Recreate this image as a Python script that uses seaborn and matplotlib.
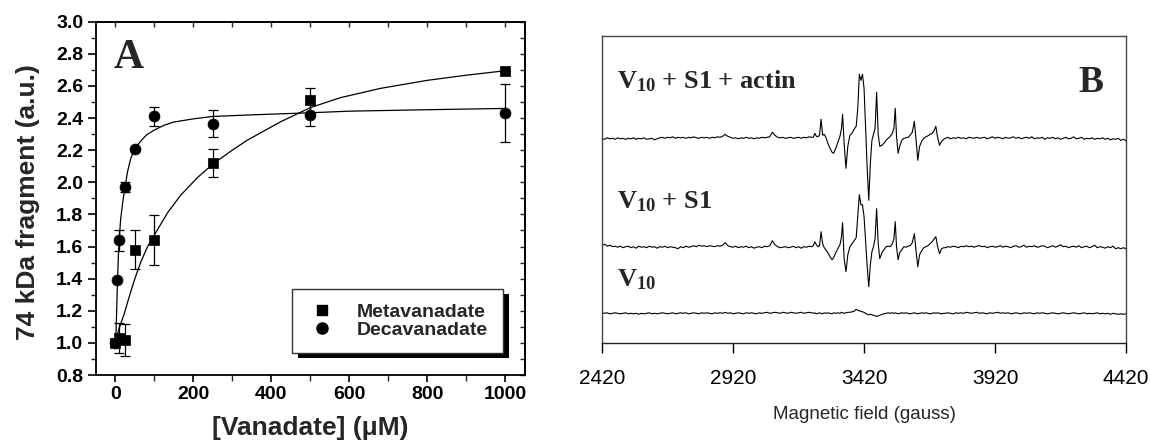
import numpy as np
import pandas as pd
import matplotlib
matplotlib.use("Agg")
import matplotlib.pyplot as plt
from matplotlib.lines import Line2D
from matplotlib.patches import Rectangle
from matplotlib.ticker import MultipleLocator
import seaborn as sns

# ---------------- Panel A data ----------------
META_X = [0, 10, 25, 50, 100, 250, 500, 1000]
META_Y = [1.00, 1.03, 1.02, 1.58, 1.64, 2.12, 2.51, 2.69]
META_ERR = [0.0, 0.095, 0.10, 0.12, 0.155, 0.085, 0.08, 0.0]

DECA_X = [0, 5, 10, 25, 50, 100, 250, 500, 1000]
DECA_Y = [1.00, 1.39, 1.64, 1.97, 2.21, 2.41, 2.365, 2.42, 2.43]
DECA_ERR = [0.0, 0.0, 0.065, 0.03, 0.0, 0.06, 0.085, 0.07, 0.18]

META_FIT_X = [0, 2, 10, 23, 35, 49, 65, 83, 100, 134, 168, 211, 251, 300,
              339, 424, 500, 577, 680, 800, 900, 1000]
META_FIT_Y = [1.00, 1.02, 1.09, 1.18, 1.28, 1.39, 1.50, 1.60, 1.67, 1.81, 1.92,
              2.03, 2.115, 2.20, 2.263, 2.377, 2.465, 2.527, 2.585, 2.635, 2.667, 2.695]

DECA_FIT_X = [0, 2, 4, 6, 8, 10, 14, 19, 25, 32, 40, 50, 65, 80, 100, 125,
              150, 200, 250, 350, 500, 600, 800, 1000]
DECA_FIT_Y = [1.00, 1.05, 1.22, 1.39, 1.53, 1.64, 1.77, 1.87, 1.97, 2.07, 2.15,
              2.21, 2.255, 2.295, 2.325, 2.355, 2.375, 2.395, 2.41, 2.42, 2.433,
              2.443, 2.452, 2.46]

X_TICKS_A = [0, 200, 400, 600, 800, 1000]
Y_TICKS_A = [0.8, 1.0, 1.2, 1.4, 1.6, 1.8, 2.0, 2.2, 2.4, 2.6, 2.8, 3.0]

# ---------------- Panel B data (EPR spectra, arbitrary units) ----------------
FIELD_LOW = list(range(2420, 3230, 10))      # 81 sample fields
FIELD_MID = [3226, 3232, 3238, 3244, 3250, 3256, 3262, 3268, 3274,
             3282, 3290, 3298, 3304, 3312, 3320, 3328, 3334, 3338, 3344,
             3351, 3358, 3366, 3374, 3382, 3390, 3396, 3402, 3408, 3414,
             3420, 3426, 3432, 3438, 3444, 3450, 3456, 3462, 3468, 3474,
             3480, 3488, 3496, 3504, 3512, 3520, 3528, 3534, 3539, 3544,
             3550, 3556, 3564, 3572, 3580, 3588, 3596, 3604, 3612, 3618,
             3625, 3632, 3640, 3648, 3656, 3664, 3672, 3680, 3688, 3694,
             3700, 3708, 3716, 3724]
FIELD_HIGH = list(range(3730, 4430, 10))     # 70 sample fields

S1_LOW = [0, -1, 0.5, -0.5, 0, -1, 0.5, -0.5, 0, -1,
          0, -0.5, 0.5, -1, 0, -0.5, 0.5, -1, -0.5, 0,
          -1.5, -0.5, 0.5, 1, 0, 1, 0.5, 1.5, 0, 1,
          0.5, 1, 0, 1, 0.5, 1.5, 0.5, 0, 1, 0.5,
          1, 0, 1, 0.5, 1.5, 1, 2, 4, 2, 1,
          0, 0.5, -0.5, 0.5, 0, 1, 0, 0.5, -0.5, 0.5,
          0, 1, 0.5, 1, 1.5, 6, 3, 1, 0.5, 1,
          0, 0.5, 1, 0, 0.5, 1, 0, 1, 0.5, 1.5,
          1]
S1_MID = [1, 5, 2, 1.5, 3, 19, 3, 4, 1,
          -5, -10, -14, -15, -10, -4, 2, 10, 24, -5,
          -30, -8, 3, 5, 9, 12, 30, 64, 58, 64,
          50, 10, -30, -62, -25, -2, 4, 10, 46, 4,
          -8, -7, -5, -2, 0, 2, 5, 10, 30, 2,
          -15, -8, -2, 0, 0.5, 1, 3, 6, 17, 0,
          -22, -8, -3, 0, 1.5, 2.5, 4, 5, 8, 12,
          2, -7, -3, -1]
S1_HIGH = [0, 1, -0.5, 0.5, 0, 1, 0, 0.5, -0.5, 1,
           0.5, 0, 1, 0, 0.5, 1, -0.5, 0.5, 1.5, 0,
           1, 0.5, -0.5, 1, 0, 0.5, 1.5, 0, 1, -0.5,
           0.5, 1, 0, 1.5, -0.5, 0.5, 0, 1, -1, 0.5,
           0, 1, -0.5, 0.5, -1, 0, 1, -0.5, 0, 1.5,
           -0.5, 0, 1, -1, 0, -0.5, 0.5, -1, 0, -0.5,
           0.5, -1, 0, -1.5, -0.5, -1, 0, -2, -1, -2.5]

S2_LOW = [1, 2.5, 0.5, 1.5, 0, 0.5, -0.5, 0.5, -1, 0,
          0.5, -1, 0, -1.5, 0.5, -0.5, 0, -1, 0.5, -0.5,
          0, -1.5, 0, -0.5, 0.5, -1, 0, -0.5, -1, -2,
          0, -1, 0.5, -0.5, 0, 1, 0, 1.5, 0.5, 1,
          0, 1, 0.5, 0, 1, 0.5, 1.5, 4, 1, 0,
          -0.5, 0.5, -1, 0, -0.5, 0.5, -1, 0, -1.5, -0.5,
          0, -1, 0.5, 0, 1, 6, 2, 0, -1, -0.5,
          0, -1, -0.5, 0.5, -1, 0, -1.5, 0, -0.5, 0.5,
          0]
S2_MID = [1, 5, 2, 0, 1, 15, 3, -1, -3,
          -6, -10, -13, -11, -6, -2, 2, 10, 24, -12,
          -25, -8, 0, 3, 6, 9, 30, 52, 42, 42,
          30, 5, -20, -40, -18, -5, 0, 8, 38, 3,
          -12, -6, -3, 0, 0.5, 0, 3, 8, 25, 0,
          -13, -6, -3, 0, -0.5, 0.5, 1, 4, 13, -3,
          -20, -8, -4, -1, 0, 1, 3, 5, 8, 10,
          1, -7, -2, -1]
S2_HIGH = [-1, 0, -0.5, 0.5, 0, -1, 0.5, 0, 1, 0,
           0.5, -0.5, 0.5, 1, 0, 0.5, -1, 0, 0.5, -0.5,
           0, 1, -0.5, 0.5, 0, -1, 0.5, 1, -0.5, 0,
           1.5, -0.5, 0.5, 0, 1, -0.5, 0, 1, 0.5, -1,
           0, 1, -0.5, 0.5, 2, 0, 0.5, -1, 0, 0.5,
           -0.5, 1, -1, 0, 0.5, -1, 0, 1.5, -1, 0,
           -0.5, -1.5, 0, -1, 0.5, -2, -1, -2, -1, -2]

S3_LOW = [0.5, 0, 0.5, -0.5, 0, 0.5, 0, -0.5, 0, 0.5,
          -0.5, 0, -0.5, 0, -1, 0, -0.5, 0, 0.5, -0.5,
          0, -0.5, 0, 0.5, 0, -0.5, 0, 0.5, -0.5, 0,
          0.5, 0, 0.5, -0.5, 0, 0.5, 0, -0.5, 0.5, 0,
          0.5, 0, -0.5, 0.5, 0, 0.5, 0, 1, 0, 0.5,
          -0.5, 0, 0.5, 0, -0.5, 0.5, 0, 0.5, 0, -0.5,
          0.5, 0, 0.5, 1, 0, 0.5, 1, 0.5, 0, 1,
          0.5, 0, 1, 0.5, 0, 0.5, 1, 0, 0.5, 1,
          0.5]
S3_MID = [0, 0.5, -0.5, 0, 0.5, 0, -0.5, 0.5, 0,
          0.5, 0, -0.5, 0.5, 0, 0.5, 0, 1, 0.5, 0,
          0.5, 1, 1, 1.5, 2, 4, 3, 2.5, 2, 1.5,
          1, 0, -1, -1.5, -1, -1.5, -2, -2.5, -3, -2.5,
          -2, -1, -0.5, 0, 0.5, 0, 0.5, 0, 0.5, 0,
          -0.5, 0, 0.5, 0, 0.5, 0, -0.5, 0, 0.5, 0,
          -0.5, 0, 0.5, 0, 0.5, 0, -0.5, 0, 0.5, 0,
          0.5, 0, -0.5, 0]
S3_HIGH = [0, 0.5, 0, -0.5, 0.5, 0, 0.5, 0, 1, 0.5,
           0, 0.5, 1, 0, 0.5, 0, -0.5, 0.5, 0, 0.5,
           1, 0, 0.5, 0, 0.5, -0.5, 0, 0.5, 0, -0.5,
           0.5, 0, 0.5, 0, -0.5, 0.5, 0, 0.5, 0, -0.5,
           0, 0.5, 0, -0.5, 0, 0.5, 0, -0.5, 0, 0.5,
           0, -0.5, 0, 0.5, -0.5, 0, -0.5, 0, 0.5, -0.5,
           0, -0.5, 0, -1, 0, -0.5, -1, -0.5, -1, -0.5]

SPECTRUM_LABELS = [r"V$_{10}$ + S1 + actin", r"V$_{10}$ + S1", r"V$_{10}$"]
X_TICKS_B = [2420, 2920, 3420, 3920, 4420]

# ---------------- Style ----------------
sns.set_style("ticks")
plt.rcParams['font.family'] = ['Liberation Sans', 'DejaVu Sans']
plt.rcParams['mathtext.fontset'] = 'custom'
plt.rcParams['mathtext.rm'] = 'Liberation Serif:bold'
plt.rcParams['mathtext.it'] = 'Liberation Serif:bold'
plt.rcParams['mathtext.bf'] = 'Liberation Serif:bold'

fig = plt.figure(figsize=(11.5, 4.45), dpi=100)
fig.patch.set_facecolor('white')

# ================= Panel A =================
axA = fig.add_axes([0.0832, 0.1573, 0.3733, 0.7939])
axA.set_facecolor('white')

sns.lineplot(x=META_FIT_X, y=META_FIT_Y, ax=axA, color='black', lw=0.9,
             estimator=None, sort=False, zorder=2)
sns.lineplot(x=DECA_FIT_X, y=DECA_FIT_Y, ax=axA, color='black', lw=0.9,
             estimator=None, sort=False, zorder=2)

axA.errorbar(META_X, META_Y, yerr=META_ERR, fmt='none', ecolor='black',
             elinewidth=0.9, capsize=3.5, capthick=0.9, zorder=3)
axA.errorbar(DECA_X, DECA_Y, yerr=DECA_ERR, fmt='none', ecolor='black',
             elinewidth=0.9, capsize=3.5, capthick=0.9, zorder=3)

sns.scatterplot(x=META_X, y=META_Y, ax=axA, marker='s', s=55, color='black',
                edgecolor='black', linewidth=0.5, zorder=4)
sns.scatterplot(x=DECA_X, y=DECA_Y, ax=axA, marker='o', s=62, color='black',
                edgecolor='black', linewidth=0.5, zorder=4)

axA.set_xlim(-50, 1050)
axA.set_ylim(0.8, 3.0)
axA.set_xticks(X_TICKS_A)
axA.set_xticklabels([str(t) for t in X_TICKS_A])
axA.xaxis.set_minor_locator(MultipleLocator(100))
axA.set_yticks(Y_TICKS_A)
axA.set_yticklabels([f"{t:.1f}" for t in Y_TICKS_A])
axA.yaxis.set_minor_locator(MultipleLocator(0.1))
axA.tick_params(axis='both', which='major', direction='out', width=1.2,
                labelsize=14, colors='black')
axA.tick_params(axis='y', which='major', length=6, pad=3)
axA.tick_params(axis='y', which='minor', direction='out', length=3.5, width=1.0)
axA.tick_params(axis='x', which='major', length=5, pad=3)
axA.tick_params(axis='x', which='minor', direction='out', length=4, width=1.0)
for lab in axA.get_xticklabels() + axA.get_yticklabels():
    lab.set_fontweight('bold')
for sp in axA.spines.values():
    sp.set_visible(True)
    sp.set_linewidth(1.3)
    sp.set_color('black')

# mirrored inward ticks on top / right
topA = axA.secondary_xaxis('top')
topA.set_xticks(list(range(0, 1001, 100)))
topA.tick_params(direction='in', length=3.5, width=1.0, labeltop=False)
topA.spines['top'].set_linewidth(1.3)
rightA = axA.secondary_yaxis('right')
rightA.set_yticks([round(0.8 + 0.1 * i, 1) for i in range(23)])
rightA.tick_params(direction='in', length=3.5, width=1.0, labelright=False)
rightA.spines['right'].set_linewidth(1.3)

axA.set_xlabel("[Vanadate] (\u03bcM)", fontsize=19, fontweight='bold', va='center')
axA.xaxis.set_label_coords(0.5, -0.15)
axA.set_ylabel("74 kDa fragment (a.u.)", fontsize=19, fontweight='bold', va='center')
axA.yaxis.set_label_coords(-0.158, 0.49)

axA.text(-3, 2.71, "A", fontsize=30, fontweight='bold',
         family=['Liberation Serif', 'DejaVu Serif'], ha='left', va='baseline')

handles = [Line2D([], [], marker='s', color='black', linestyle='none', markersize=7.5),
           Line2D([], [], marker='o', color='black', linestyle='none', markersize=8)]
leg = axA.legend(handles, ["Metavanadate", "Decavanadate"], loc='lower left',
                 bbox_to_anchor=(0.457, 0.062), borderaxespad=0, frameon=True,
                 fancybox=False, framealpha=1, edgecolor='#333333',
                 prop={'family': 'Liberation Sans', 'weight': 'bold', 'size': 14},
                 borderpad=0.75, handlelength=1.57, handletextpad=1.02,
                 labelspacing=0.0)
leg.get_frame().set_linewidth(1.0)
leg.set_zorder(6)

# ================= Panel B =================
axB = fig.add_axes([0.5235, 0.2292, 0.4557, 0.6899])
axB.set_facecolor('white')

field = FIELD_LOW + FIELD_MID + FIELD_HIGH
spectra = [S1_LOW + S1_MID + S1_HIGH,
           S2_LOW + S2_MID + S2_HIGH,
           S3_LOW + S3_MID + S3_HIGH]
offsets = [204.7, 96.3, 29.7]
for vals, off in zip(spectra, offsets):
    n = min(len(field), len(vals))
    df = pd.DataFrame({'field': field[:n], 'signal': np.array(vals[:n]) + off})
    sns.lineplot(data=df, x='field', y='signal', ax=axB, color='black', lw=0.8,
                 estimator=None, sort=False)

axB.set_xlim(2420, 4420)
axB.set_ylim(0, 307)
axB.set_xticks(X_TICKS_B)
axB.set_xticklabels([str(t) for t in X_TICKS_B])
axB.set_yticks([])
axB.tick_params(axis='x', direction='out', length=7.5, width=1.0, pad=11,
                labelsize=15, colors='black')
axB.set_xlabel("Magnetic field (gauss)", fontsize=13.5, va='center')
axB.xaxis.set_label_coords(0.5, -0.2345)
axB.set_ylabel("")
for sp in axB.spines.values():
    sp.set_visible(True)
    sp.set_linewidth(1.0)
    sp.set_color('#444444')
axB.spines['bottom'].set_color('#222222')

label_y = [254.7, 134.7, 56.3]
for lab, ly in zip(SPECTRUM_LABELS, label_y):
    axB.text(2477, ly, lab, fontsize=19, fontweight='bold',
             family=['Liberation Serif', 'DejaVu Serif'], ha='left', va='baseline')
axB.text(4332, 251.3, "B", fontsize=27, fontweight='bold',
         family=['Liberation Serif', 'DejaVu Serif'], ha='right', va='baseline')

# ---- legend shadow (solid black, offset down-right) ----
fig.canvas.draw()
renderer = fig.canvas.get_renderer()
bb = leg.get_frame().get_window_extent(renderer)
inv = fig.transFigure.inverted()
(x0, y0), (x1, y1) = inv.transform([[bb.x0 + 6, bb.y0 - 5], [bb.x1 + 6, bb.y1 - 5]])
shadow = Rectangle((x0, y0), x1 - x0, y1 - y0, transform=fig.transFigure,
                   facecolor='black', edgecolor='none', zorder=5.5, clip_on=False)
axA.add_artist(shadow)

fig.savefig("out.png", dpi=100, facecolor='white')
